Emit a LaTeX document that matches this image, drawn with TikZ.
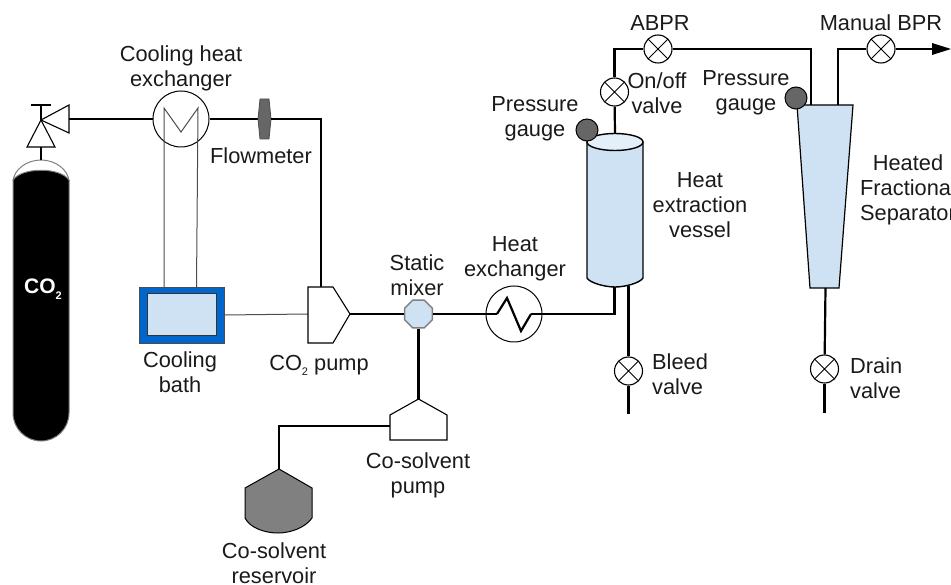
\documentclass[tikz,border=0pt]{standalone}
\usepackage{fontspec}
\usetikzlibrary{shapes.geometric}
\setmainfont{Liberation Sans}
\definecolor{lblue}{HTML}{CFE2F3}
\definecolor{ltop}{HTML}{E3F0F9}
\definecolor{bathblue}{HTML}{0066CC}
\definecolor{dgray}{HTML}{666666}
\definecolor{mgray}{HTML}{808080}
\definecolor{txt}{HTML}{1A1A1A}
\begin{document}
\begin{tikzpicture}[x=1pt,y=-1pt,
  pipe/.style={draw=black,line width=2.2pt},
  thin line/.style={draw=black!70,line width=1pt},
  sym/.style={draw=black,line width=1.1pt},
  valvec/.style={circle,draw=black,fill=white,line width=1.1pt,minimum size=28pt,inner sep=0pt,path picture={
     \draw[line width=1pt] (path picture bounding box.north west)--(path picture bounding box.south east)
       (path picture bounding box.north east)--(path picture bounding box.south west);}},
  hx/.style={circle,draw=black,line width=1pt,minimum size=56pt,inner sep=0pt},
  gauge/.style={circle,draw=black,fill=dgray,line width=1pt,minimum size=22pt,inner sep=0pt},
  lab/.style={font=\fontsize{21.8pt}{25pt}\selectfont,text=txt,align=center,inner sep=0pt},
  labl/.style={lab,align=left,anchor=west}]
\useasboundingbox (0,0) rectangle (951,585);
% coordinates
\coordinate (junction) at (41,120);
\coordinate (tl) at (31,105);
\coordinate (tr) at (51,105);
\coordinate (tt) at (41,105);
% cylinder
\path[fill=white,draw=mgray,line width=1pt] (13,181) .. controls (14,170) and (26,160) .. (41,160) .. controls (56,160) and (68,170) .. (69,181);
\path[fill=black,draw=mgray,line width=1pt] (13,180) .. controls (22,167) and (60,167) .. (69,180) -- (69,413) .. controls (69,428.5) and (56.5,441) .. (41,441) .. controls (25.5,441) and (13,428.5) .. (13,413) -- cycle;
\node[font=\bfseries\fontsize{21pt}{24pt}\selectfont,text=white,inner sep=0pt] (co2text) at (43,289) {CO\raisebox{-6pt}{\fontsize{11pt}{12pt}\selectfont 2}};
\coordinate (cyltop) at (41,160);
% top valve
\draw[pipe] (tl)--(tr);
\draw[pipe] (tt)--(junction);
\draw[sym,fill=white] (junction)--(27,147)--(55,147)--cycle;
\draw[sym,fill=white] (junction)--(69,105)--(69,133)--cycle;
\coordinate (tribase) at (41,147);
\coordinate (triright) at (69,119);
\draw[pipe] (tribase)--(cyltop);
% cooling HX
\node[hx] (chx) at (181,119) {};
\draw[pipe] (triright)--(chx.west);
\coordinate (fml) at (258,119);
\coordinate (fmr) at (271,119);
\draw[pipe] (chx.east)--(fml);
\path[fill=dgray,draw=black!70,line width=.8pt] (260,99)--(269,99)--(271,119)--(269,139)--(260,139)--(258,119)--cycle;
% bath
\node[draw=black!70,line width=.8pt,fill=bathblue,minimum width=85.5pt,minimum height=56pt,inner sep=0pt] (bath) at (181.7,315) {};
\node[draw=black!80,line width=1pt,fill=lblue,minimum width=69pt,minimum height=42pt,inner sep=0pt] (bathin) at (181.5,315) {};
\coordinate (b1) at (164,287);
\coordinate (b2) at (196.5,287);
\draw[thin line] (b1)--(164,108)--(181,132)--(198,108)--(b2);
% pumps
\node[inner sep=0pt,minimum size=0pt] (pumpw) at (308,314) {};
\node[inner sep=0pt,minimum size=0pt] (pumpe) at (350,314) {};
\node[inner sep=0pt,minimum size=0pt] (pumpt) at (321,287) {};
\draw[pipe] (fmr)--(321,119)--(pumpt);
\draw[thin line] (bath.east)--(pumpw);
\draw[sym,fill=white] (308,287)--(333,287)--(350,314)--(333,343)--(308,343)--cycle;
% mixer
\node[regular polygon,regular polygon sides=8,draw=mgray,fill=lblue,line width=1.4pt,minimum size=30pt,inner sep=0pt] (mixer) at (418.5,314) {};
\draw[pipe] (pumpe)--(mixer.west);
% HX
\node[hx] (hxx) at (514,314) {};
\coordinate (zs) at (497,314);
\coordinate (ze) at (531,314);
\draw[pipe] (mixer.east)--(zs);
\draw[pipe] (zs)--(507,298)--(521,331)--(ze);
\draw[pipe] (ze)--(614.5,314)--(614.5,287);
% vessel
\path[fill=lblue,draw=black,line width=1.4pt] (587,142)--(587,278) .. controls (590,283) and (605,287) .. (615,287) .. controls (625,287) and (640,283) .. (643,278) -- (643,142) --cycle;
\draw[fill=ltop,line width=1.4pt] (615,142) ellipse[x radius=28,y radius=8.5];
\coordinate (vtop) at (615,133.5);
\coordinate (vbot) at (628.5,286);
\node[gauge] (g1) at (587,130) {};
% on/off + abpr
\node[valvec] (onoff) at (614.5,92) {};
\node[valvec] (abpr) at (658,49) {};
\draw[pipe] (vtop)--(onoff);
\draw[pipe] (onoff)--(614.5,49)--(abpr);
% separator
\path[fill=lblue,draw=black,line width=1.2pt] (797,105)--(853,105)--(839,288)--(810,288)--cycle;
\coordinate (s1) at (811,105);
\coordinate (s2) at (838,105);
\coordinate (s3) at (825.5,288);
\draw[pipe] (abpr)--(811,49)--(s1);
\node[gauge] (g2) at (796,98) {};
\node[valvec] (mbpr) at (881,49) {};
\coordinate (outend) at (935,49);
\draw[pipe] (s2)--(838,49)--(mbpr);
\draw[pipe] (mbpr)--(outend);
\fill[black] (932,43)--(951,49)--(932,55)--cycle;
% lower valves
\node[valvec] (bleed) at (628.5,371) {};
\coordinate (bleedend) at (628.5,414);
\draw[pipe] (vbot)--(bleed);
\draw[pipe] (bleed)--(bleedend);
\node[valvec] (drain) at (824.5,369) {};
\coordinate (drainend) at (824.5,413);
\draw[pipe] (s3)--(drain);
\draw[pipe] (drain)--(drainend);
% co-solvent pump
\coordinate (cpt) at (418.5,399);
\coordinate (cpw) at (390,426);
\draw[pipe] (mixer.south)--(cpt);
\draw[sym,fill=white] (cpt)--(447,415)--(447,440)--(390,440)--(390,415)--cycle;
% reservoir
\coordinate (rt) at (279,469);
\path[fill=mgray,draw=black,line width=1pt] (rt)--(312,488)--(312,518) .. controls (305,528) and (290,533) .. (278,533) .. controls (265,533) and (250,528) .. (245,518) --(245,488)--cycle;
\draw[pipe] (cpw)--(279,426)--(rt);
% labels
\node[lab] (t1) at (181,68) {Cooling heat\\exchanger};
\node[lab] (t2) at (261,156) {Flowmeter};
\node[lab] (t3) at (535,119) {Pressure\\gauge};
\node[lab] (t4) at (657,93) {On/off\\valve};
\node[lab] (t5) at (660,23) {ABPR};
\node[lab] (t6) at (746,92.5) {Pressure\\gauge};
\node[lab] (t7) at (881,23) {Manual BPR};
\node[lab] (t8) at (908,190) {Heated\\Fractional\\Separator};
\node[lab] (t9) at (700,205) {Heat\\extraction\\vessel};
\node[lab] (t10) at (180,372) {Cooling\\bath};
\node[lab] (t11) at (319,365) {CO\raisebox{-5pt}{\fontsize{11pt}{12pt}\selectfont 2} pump};
\node[lab] (t12) at (417,275) {Static\\mixer};
\node[lab] (t13) at (515,259) {Heat\\exchanger};
\node[labl] (t14) at (652,374) {Bleed\\valve};
\node[labl] (t15) at (850,378) {Drain\\valve};
\node[lab] (t16) at (418,475) {Co-solvent\\pump};
\node[lab] (t17) at (274,563) {Co-solvent\\reservoir};
\end{tikzpicture}
\end{document}
